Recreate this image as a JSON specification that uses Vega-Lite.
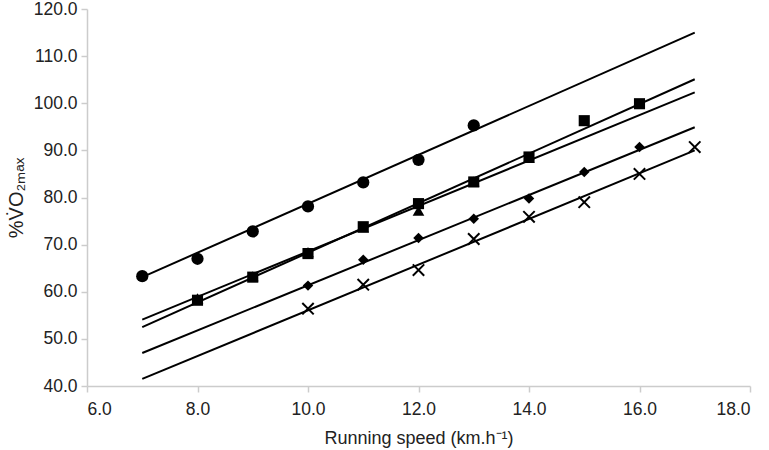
{
  "$schema": "https://vega.github.io/schema/vega-lite/v6.json",
  "width": 663,
  "height": 377,
  "autosize": "none",
  "padding": {"left": 87, "top": 9, "right": 19, "bottom": 64},
  "background": "white",
  "config": {
    "view": {"stroke": null},
    "font": "Liberation Sans",
    "axis": {
      "grid": false,
      "domainColor": "#cccccc",
      "domainWidth": 1.5,
      "tickColor": "#cccccc",
      "tickWidth": 1.5,
      "tickSize": 6,
      "labelFont": "Liberation Sans",
      "labelFontSize": 17.5,
      "labelColor": "#222222",
      "titleFont": "Liberation Sans",
      "titleFontSize": 18,
      "titleFontWeight": "normal",
      "titleColor": "#222222"
    }
  },
  "datasets": {
    "points": [
      {"series": "circle", "speed": 7, "vo2": 63.3},
      {"series": "circle", "speed": 8, "vo2": 67.0},
      {"series": "circle", "speed": 9, "vo2": 72.8},
      {"series": "circle", "speed": 10, "vo2": 78.1},
      {"series": "circle", "speed": 11, "vo2": 83.2},
      {"series": "circle", "speed": 12, "vo2": 88.0},
      {"series": "circle", "speed": 13, "vo2": 95.3},
      {"series": "triangle", "speed": 8, "vo2": 58.6},
      {"series": "triangle", "speed": 9, "vo2": 63.3},
      {"series": "triangle", "speed": 10, "vo2": 68.4},
      {"series": "triangle", "speed": 11, "vo2": 73.6},
      {"series": "triangle", "speed": 12, "vo2": 77.2},
      {"series": "triangle", "speed": 13, "vo2": 83.4},
      {"series": "triangle", "speed": 14, "vo2": 88.4},
      {"series": "square", "speed": 8, "vo2": 58.2},
      {"series": "square", "speed": 9, "vo2": 63.1},
      {"series": "square", "speed": 10, "vo2": 68.1},
      {"series": "square", "speed": 11, "vo2": 73.8},
      {"series": "square", "speed": 12, "vo2": 78.7},
      {"series": "square", "speed": 13, "vo2": 83.3},
      {"series": "square", "speed": 14, "vo2": 88.6},
      {"series": "square", "speed": 15, "vo2": 96.3},
      {"series": "square", "speed": 16, "vo2": 99.9},
      {"series": "diamond", "speed": 10, "vo2": 61.3},
      {"series": "diamond", "speed": 11, "vo2": 66.8},
      {"series": "diamond", "speed": 12, "vo2": 71.4},
      {"series": "diamond", "speed": 13, "vo2": 75.5},
      {"series": "diamond", "speed": 14, "vo2": 79.8},
      {"series": "diamond", "speed": 15, "vo2": 85.4},
      {"series": "diamond", "speed": 16, "vo2": 90.7},
      {"series": "x", "speed": 10, "vo2": 56.4},
      {"series": "x", "speed": 11, "vo2": 61.5},
      {"series": "x", "speed": 12, "vo2": 64.6},
      {"series": "x", "speed": 13, "vo2": 71.2},
      {"series": "x", "speed": 14, "vo2": 75.9},
      {"series": "x", "speed": 15, "vo2": 79.0},
      {"series": "x", "speed": 16, "vo2": 85.0},
      {"series": "x", "speed": 17, "vo2": 90.7}
    ],
    "trends": [
      {"series": "circle", "speed": 7, "vo2": 63.1},
      {"series": "circle", "speed": 17, "vo2": 115.0},
      {"series": "square", "speed": 7, "vo2": 52.5},
      {"series": "square", "speed": 17, "vo2": 105.1},
      {"series": "triangle", "speed": 7, "vo2": 54.1},
      {"series": "triangle", "speed": 17, "vo2": 102.3},
      {"series": "diamond", "speed": 7, "vo2": 47.0},
      {"series": "diamond", "speed": 17, "vo2": 94.9},
      {"series": "x", "speed": 7, "vo2": 41.5},
      {"series": "x", "speed": 17, "vo2": 90.0}
    ]
  },
  "encoding": {
    "x": {
      "field": "speed",
      "type": "quantitative",
      "scale": {"domain": [6, 18], "nice": false, "zero": false},
      "axis": {
        "values": [6, 8, 10, 12, 14, 16, 18],
        "format": ".1f",
        "labelPadding": 8,
        "title": "Running speed (km.h⁻¹)",
        "titlePadding": 12
      }
    },
    "y": {
      "field": "vo2",
      "type": "quantitative",
      "scale": {"domain": [40, 120], "nice": false, "zero": false},
      "axis": {
        "values": [40, 50, 60, 70, 80, 90, 100, 110, 120],
        "format": ".1f",
        "labelPadding": 4,
        "title": "%V̇O₂ₘₐₓ",
        "titleFontSize": 20,
        "titlePadding": 7
      }
    }
  },
  "layer": [
    {
      "data": {"name": "trends"},
      "mark": {"type": "line", "color": "black", "strokeWidth": 2},
      "encoding": {"detail": {"field": "series", "type": "nominal"}}
    },
    {
      "data": {"name": "points"},
      "transform": [{"filter": "datum.series !== 'x'"}],
      "mark": {"type": "point", "filled": true, "color": "black", "opacity": 1},
      "encoding": {
        "shape": {
          "field": "series",
          "type": "nominal",
          "scale": {
            "domain": ["circle", "triangle", "square", "diamond"],
            "range": ["circle", "triangle-up", "square", "diamond"]
          },
          "legend": null
        },
        "size": {
          "field": "series",
          "type": "nominal",
          "scale": {
            "domain": ["circle", "triangle", "square", "diamond"],
            "range": [150, 110, 120, 70]
          },
          "legend": null
        }
      }
    },
    {
      "data": {"name": "points"},
      "transform": [{"filter": "datum.series === 'x'"}],
      "mark": {
        "type": "point",
        "filled": false,
        "color": "black",
        "opacity": 1,
        "strokeWidth": 2,
        "shape": "M-1,-1L1,1M-1,1L1,-1",
        "size": 130
      }
    }
  ]
}
